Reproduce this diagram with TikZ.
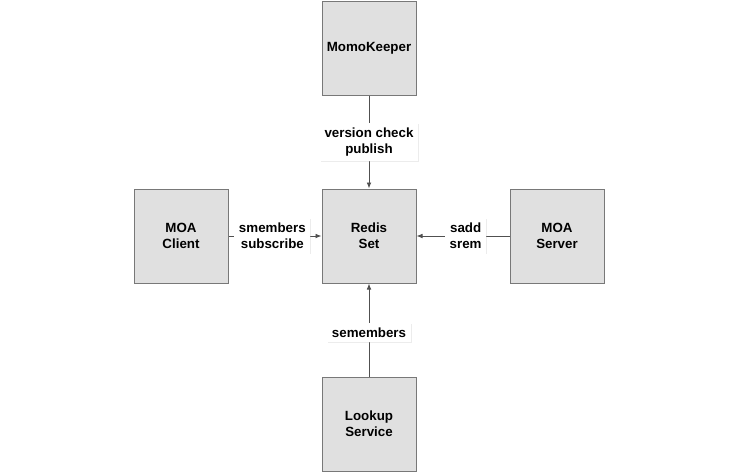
\documentclass[tikz,border=0pt]{standalone}
\usepackage{fontspec}
\setmainfont{Liberation Sans}
\usepackage{xcolor}
\usetikzlibrary{
  arrows.meta,
  positioning,
  shadows
}
\definecolor{xfill}{RGB}{224,224,224}
\definecolor{xedge}{RGB}{120,120,120}
\definecolor{xline}{RGB}{80,80,80}

\begin{document}
\begin{tikzpicture}[
  x=0.75pt, y=-0.75pt,
  node distance=69.75pt,
  box/.style={draw=xedge, fill=xfill, line width=0.75pt,
              minimum width=70.5pt, minimum height=70.5pt,
              font=\bfseries, text=black, align=center, inner sep=0pt,
              drop shadow={shadow xshift=1pt, shadow yshift=-1pt, fill=black!40, opacity=0.35}},
  arr/.style={-{Latex[length=4.5pt,width=3.5pt]}, color=xline, line width=0.6pt},
  tag/.style={fill=white, font=\bfseries, text=black, align=center, inner sep=3.5pt,
              drop shadow={shadow xshift=0.6pt, shadow yshift=-0.6pt, fill=black!25, opacity=0.3}}
]
  \useasboundingbox (0,0) rectangle (738,472);

  % centre and its four neighbours
  \node[box] (redis)  at (369,236) {Redis\\Set};
  \node[box, above=of redis] (keeper) {MomoKeeper};
  \node[box, left=of redis]  (client) {MOA\\Client};
  \node[box, right=of redis] (server) {MOA\\Server};
  \node[box, below=of redis] (lookup) {Lookup\\Service};

  \draw[arr] (keeper) -- node[tag]{version check\\publish} (redis);
  \draw[arr] (client) -- node[tag, xshift=-2pt]{smembers\\subscribe} (redis);
  \draw[arr] (server) -- node[tag, xshift=2pt]{sadd\\srem} (redis);
  \draw[arr] (lookup) -- node[tag, yshift=-2pt]{semembers} (redis);
\end{tikzpicture}
\end{document}
